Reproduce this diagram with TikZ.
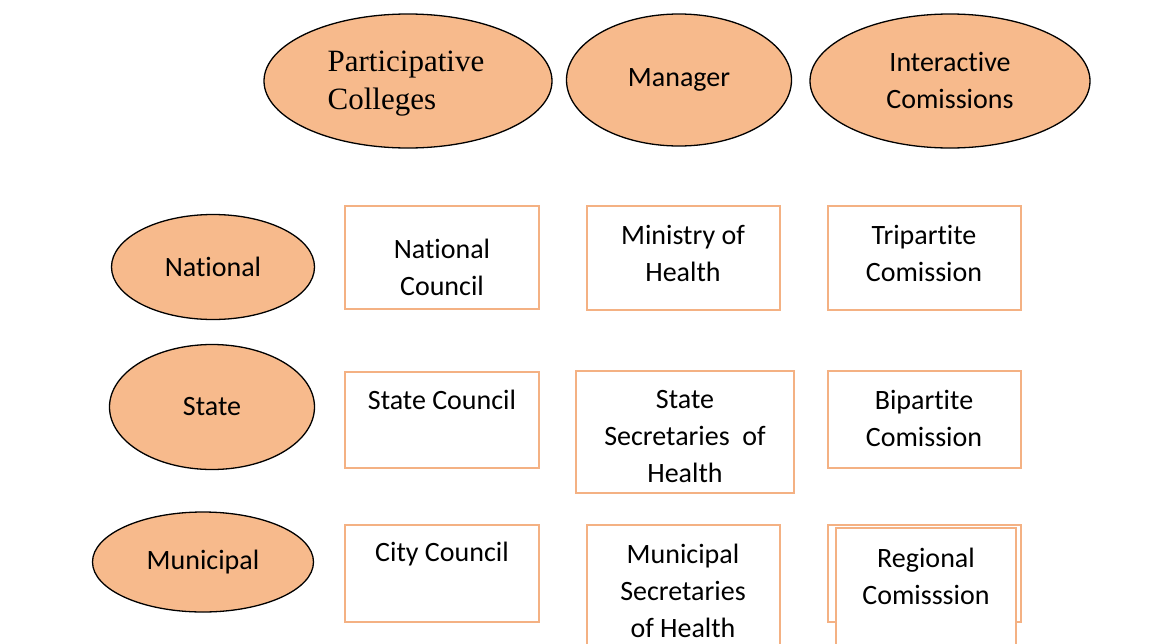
\documentclass[tikz,border=0pt]{standalone}
\usepackage{fontspec}
\setmainfont{Carlito}[Ligatures={NoCommon,NoContextual,NoRequired},Contextuals=NoAlternate]
\newfontfamily\timesf{Liberation Serif}
\usetikzlibrary{shapes.geometric}
\definecolor{fillor}{HTML}{F7BA8C}
\definecolor{lineor}{HTML}{F4B183}
\newcommand\tinl{t\kern0pt i}
\begin{document}
\begin{tikzpicture}[x=1pt,y=-1pt,
  oval/.style={ellipse, draw=black, line width=1.3pt, fill=fillor, inner sep=0pt,
    font=\fontsize{28}{37}\selectfont, align=center},
  box/.style={draw=lineor, line width=2pt, inner sep=0pt, fill=white},
  lbl/.style={font=\fontsize{28}{37}\selectfont, align=center, inner sep=0pt}]
\useasboundingbox (0,0) rectangle (1165,643);
% top ellipses
\node[oval, minimum width=288, minimum height=134] (pc) at (408,81) {};
\node[lbl, font=\timesf\fontsize{31}{38}\selectfont, align=left] (pct) at (406,84) {Participative\\Colleges};
\node[oval, minimum width=225, minimum height=132] (mg) at (679,80) {};
\node[lbl] (mgt) at (679,80) {Manager};
\node[oval, minimum width=280, minimum height=134] (ic) at (950,81) {};
\node[lbl] (ict) at (950,80) {Interac\tinl ve\\Comissions};
% left ellipses
\node[oval, minimum width=203, minimum height=105] (na) at (213,267) {Na\tinl onal};
\node[oval, minimum width=205, minimum height=125] (st) at (212,407) {State};
\node[oval, minimum width=221, minimum height=100] (mu) at (203,562) {Municipal};
% row 1
\node[box, minimum width=194, minimum height=103] (ncb) at (442,257.5) {};
\node[lbl] (nct) at (442,267) {Na\tinl onal\\Council};
\node[box, minimum width=193, minimum height=104] (mhb) at (683.5,258) {};
\node[lbl] (mht) at (683,253) {Ministry of\\Health};
\node[box, minimum width=193, minimum height=104] (tcb) at (924.5,258) {};
\node[lbl] (tct) at (924,253) {Triparti\kern0pt te\\Comission};
% row 2
\node[box, minimum width=194, minimum height=96] (scb) at (442,420) {};
\node[lbl] (sct) at (442,400) {State Council};
\node[box, minimum width=218, minimum height=122] (ssb) at (685,432) {};
\node[lbl] (sst) at (685,437) {State\\Secretaries~ of\\Health};
\node[box, minimum width=193, minimum height=97] (bcb) at (924.5,419.5) {};
\node[lbl] (bct) at (924,418) {Biparti\kern0pt te\\Comission};
% row 3
\node[box, minimum width=194, minimum height=97] (ccb) at (442,573.5) {};
\node[lbl] (cct) at (442,554) {City Council};
\node[box, minimum width=193, minimum height=125] (msb) at (683.5,587.5) {};
\node[lbl] (mst) at (683,591) {Municipal\\Secretaries\\of Health};
\node[box, minimum width=193, minimum height=97] (rcb) at (924.5,573.5) {};
\node[box, minimum width=180, minimum height=122] (rcf) at (926,589) {};
\node[lbl] (rct) at (926,576) {Regional\\Comisssion};
\end{tikzpicture}
\end{document}
